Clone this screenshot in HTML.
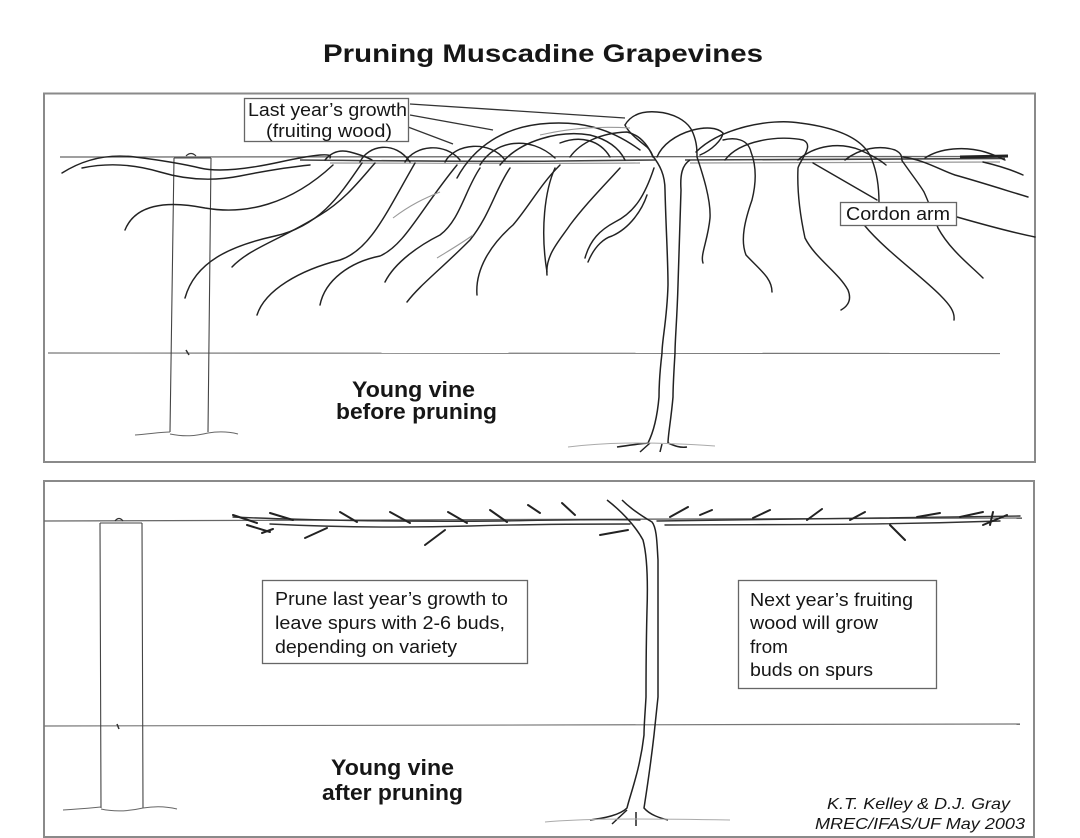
<!DOCTYPE html>
<html>
<head>
<meta charset="utf-8">
<style>
html,body{margin:0;padding:0;background:#fff;}
svg{display:block;}
text{font-family:"Liberation Sans",Arial,sans-serif;fill:#161616;}
</style>
</head>
<body>
<svg width="1080" height="838" viewBox="0 0 1080 838" xmlns="http://www.w3.org/2000/svg">
<rect x="0" y="0" width="1080" height="838" fill="#fff"/>

<!-- Title -->
<text x="323" y="62" font-size="25" font-weight="bold" textLength="440" lengthAdjust="spacingAndGlyphs">Pruning Muscadine Grapevines</text>

<!-- ================= TOP PANEL ================= -->
<rect x="44" y="93.5" width="991" height="368.5" fill="none" stroke="#8a8a8a" stroke-width="2"/>

<!-- wires -->
<line x1="60" y1="157" x2="1008" y2="156.5" stroke="#666" stroke-width="1.3"/>
<line x1="48" y1="353" x2="1000" y2="353.5" stroke="#777" stroke-width="1.2"/>
<!-- cordon -->
<path d="M300,160 C400,161 500,162 560,161 L655,160" fill="none" stroke="#444" stroke-width="1.6"/>
<path d="M330,163 C420,163 520,164 640,163" fill="none" stroke="#999" stroke-width="1.2"/>
<path d="M685,160 L1005,158.5" fill="none" stroke="#444" stroke-width="1.6"/>
<path d="M690,163 L1000,162" fill="none" stroke="#999" stroke-width="1.2"/>
<path d="M960,157 L1008,156" stroke="#222" stroke-width="3"/>

<!-- post -->
<path d="M174,158 L170,432 M211,158 L208,432 M174,158 L211,158" fill="none" stroke="#444" stroke-width="1.1"/>
<path d="M186,156 Q191,151 196,156" fill="none" stroke="#333" stroke-width="1.2"/>
<path d="M186,350 l3,5" stroke="#333" stroke-width="1.5"/>
<path d="M135,435 C150,434 160,432 170,432 M170,434 C185,437 195,436 208,433 M208,433 C220,431 230,432 238,434" fill="none" stroke="#666" stroke-width="1"/>

<g fill="none" stroke="#222" stroke-width="1.45" stroke-linecap="round">
<!-- left canes -->
<path d="M62,173 Q95,152 135,157 T200,168 T280,162 T330,158"/>
<path d="M82,168 Q120,160 160,172 T240,176 T310,165"/>
<path d="M125,230 C135,205 165,200 205,208 C245,215 290,205 333,165"/>
<path d="M185,298 C195,262 230,246 275,236 C320,226 340,195 362,163"/>
<path d="M232,267 C250,248 280,240 320,215 C345,200 360,180 375,163"/>
<path d="M257,315 C265,290 300,270 340,260 C370,250 385,215 415,163"/>
<path d="M320,305 C325,280 350,262 380,256 C405,245 420,210 457,165"/>
<path d="M385,282 C395,262 420,245 440,235 C460,220 465,190 480,168"/>
<path d="M407,302 C420,285 440,270 470,240 C490,215 495,190 510,168"/>
<path d="M477,295 C475,270 490,245 513,225 C530,205 540,185 560,165"/>
<path d="M547,275 C545,255 560,240 570,225 C585,205 600,190 620,168"/>
<path d="M585,258 C590,240 600,230 615,222 C635,212 645,195 654,168"/>
<path d="M588,262 C595,245 605,238 612,236 C630,228 642,210 647,195"/>
<path d="M555,168 C545,190 540,230 547,272"/>
<!-- arches left -->
<path d="M325,160 Q335,148 350,152 T372,160"/>
<path d="M360,162 C368,145 395,140 410,162"/>
<path d="M405,162 C415,145 445,142 460,160"/>
<path d="M445,162 C455,143 490,140 505,160"/>
<path d="M480,165 C495,140 530,135 555,158"/>
<path d="M457,178 C475,145 505,128 540,124 C580,120 610,128 640,150"/>
<path d="M500,165 C520,140 560,130 590,135 C610,140 620,150 625,160"/>
<path d="M570,157 C580,143 600,133 627,132 C640,135 648,145 653,157"/>
<path d="M560,143 C580,135 600,140 610,157"/>
<!-- central loop -->
<path d="M625,125 C632,113 645,111 657,112 C672,113 688,120 693,133 C697,143 697,150 697,157 C703,175 711,200 710,218 C708,240 700,255 703,263"/>
<path d="M625,125 C628,132 638,140 647,147 C650,150 652,153 653,157"/>
<path d="M657,157 C662,145 675,135 693,130 C705,127 717,127 723,133 C722,140 712,150 700,155"/>
<!-- right arches and canes -->
<path d="M696,152 C720,128 770,118 800,123 C840,128 865,140 872,160 C878,175 879,190 879,203"/>
<path d="M723,140 C735,137 748,139 751,152 C756,165 757,180 752,200 C745,220 740,240 746,255 C760,270 772,278 772,292"/>
<path d="M725,160 C740,140 780,135 803,140 C815,145 800,160 798,168 C797,190 800,215 805,238 C815,258 838,272 848,290 C852,300 848,306 841,310"/>
<path d="M798,160 C815,145 840,142 860,150 C875,157 880,160 886,165"/>
<path d="M845,160 C860,148 880,145 895,150 C905,155 900,160 903,162 C912,175 920,185 924,192 C930,205 935,220 938,228 C950,250 970,265 983,278"/>
<path d="M865,226 C885,250 920,275 940,295 C950,305 955,312 954,320"/>
<path d="M903,157 C925,160 940,170 955,175 C980,182 1005,190 1028,197"/>
<path d="M957,217 C985,225 1010,232 1035,237"/>
<path d="M983,162 C1000,166 1012,170 1023,175"/>
<path d="M925,158 C940,148 965,146 985,152 C995,155 1000,158 1005,160"/>
<path d="M813,163 L877,200"/>
</g>
<g fill="none" stroke="#9a9a9a" stroke-width="1.1">
<path d="M393,218 C410,205 425,198 440,192"/>
<path d="M437,258 C450,250 462,243 473,235"/>
<path d="M540,135 C570,128 600,126 630,128"/>
</g>

<!-- trunk top -->
<g fill="none" stroke="#222" stroke-width="1.5">
<path d="M652,155 C660,165 665,175 665,190 C666,230 668,260 668,285 C667,320 662,340 662,353 C660,370 659,385 659,397 C657,420 652,435 648,443"/>
<path d="M690,160 C682,165 680,175 681,190 C680,230 679,260 678,285 C677,320 675,340 675,353 C674,370 673,385 673,397 C671,420 668,435 668,443"/>
<path d="M617,447 C630,445 640,444 648,443 M668,443 C675,446 680,448 687,447 M640,452 L650,443 M660,452 L662,444"/>
</g>
<path d="M568,447 C600,443 640,441 715,446" fill="none" stroke="#aaa" stroke-width="1"/>

<!-- leader lines top-left label -->
<g stroke="#333" stroke-width="1.3" fill="none">
<path d="M410,104 L625,118"/>
<path d="M410,115 L493,130"/>
<path d="M408,127 L453,144"/>
</g>
<rect x="244.5" y="98.5" width="164" height="43" fill="#fff" stroke="#666" stroke-width="1.3"/>
<text x="248" y="116" font-size="18" textLength="159" lengthAdjust="spacingAndGlyphs">Last year’s growth</text>
<text x="266" y="137" font-size="18" textLength="126" lengthAdjust="spacingAndGlyphs">(fruiting wood)</text>

<rect x="840.5" y="202.5" width="116" height="23" fill="#fff" stroke="#666" stroke-width="1.3"/>
<text x="846" y="220" font-size="18" textLength="104" lengthAdjust="spacingAndGlyphs">Cordon arm</text>

<text x="352" y="397" font-size="22" font-weight="bold" textLength="123" lengthAdjust="spacingAndGlyphs">Young vine</text>
<text x="336" y="419" font-size="22" font-weight="bold" textLength="161" lengthAdjust="spacingAndGlyphs">before pruning</text>

<!-- ================= BOTTOM PANEL ================= -->
<rect x="44" y="481" width="990" height="356" fill="none" stroke="#8a8a8a" stroke-width="2"/>

<line x1="44" y1="521" x2="1022" y2="518" stroke="#666" stroke-width="1.3"/>
<line x1="44" y1="726" x2="1020" y2="724" stroke="#777" stroke-width="1.2"/>

<!-- post -->
<path d="M100,523 L101,808 M142,523 L143,808 M100,523 L142,523" fill="none" stroke="#444" stroke-width="1.1"/>
<path d="M115,521 Q119,516 123,521" fill="none" stroke="#333" stroke-width="1.2"/>
<path d="M117,724 l2,5" stroke="#333" stroke-width="1.5"/>
<path d="M63,810 C80,809 90,808 101,807 M101,809 C115,812 130,811 143,808 M143,808 C155,806 165,806 177,809" fill="none" stroke="#666" stroke-width="1"/>

<!-- cordon bottom -->
<g fill="none" stroke="#333" stroke-width="1.4" stroke-linecap="round">
<path d="M233,517 C300,520 400,522 500,521 C560,520 600,519 640,520"/>
<path d="M270,524 C330,527 400,528 470,526 C540,524 590,524 630,524"/>
<path d="M657,521 C750,520 850,519 1020,516"/>
<path d="M665,525 C760,524 850,526 1000,521"/>
</g>
<!-- spurs -->
<g fill="none" stroke="#222" stroke-width="2" stroke-linecap="round">
<path d="M233,515 L257,523"/>
<path d="M270,513 L293,520"/>
<path d="M340,512 L357,522"/>
<path d="M390,512 L410,523"/>
<path d="M448,512 L467,523"/>
<path d="M490,510 L507,522"/>
<path d="M528,505 L540,513"/>
<path d="M305,538 L327,528"/>
<path d="M425,545 L445,530"/>
<path d="M247,525 L270,532"/>
<path d="M262,533 L273,529"/>
<path d="M562,503 L575,515"/>
<path d="M670,517 L688,507"/>
<path d="M700,515 L712,510"/>
<path d="M753,518 L770,510"/>
<path d="M807,520 L822,509"/>
<path d="M850,520 L865,512"/>
<path d="M890,525 L905,540"/>
<path d="M917,517 L940,513"/>
<path d="M960,517 L983,512"/>
<path d="M983,525 L1007,515"/>
<path d="M993,512 L990,525"/>
<path d="M600,535 L628,530"/>
</g>
<!-- trunk bottom -->
<g fill="none" stroke="#222" stroke-width="1.5">
<path d="M607,500 C620,510 635,525 643,540 C647,555 648,580 647,610 C646,650 646,680 646,697 C645,715 644,725 644,735 C640,770 630,795 627,808 C620,815 605,818 590,820"/>
<path d="M622,500 C630,508 640,515 652,522 C657,528 657,545 658,560 C658,600 658,650 658,697 C656,715 655,725 654,735 C650,770 646,795 644,808 C650,815 660,818 668,820"/>
<path d="M612,824 L627,810 M636,826 L636,812"/>
</g>
<path d="M545,822 C580,819 620,818 730,820" fill="none" stroke="#aaa" stroke-width="1"/>

<!-- boxes -->
<rect x="262.5" y="580.5" width="265" height="83" fill="#fff" stroke="#666" stroke-width="1.3"/>
<text x="275" y="605" font-size="18" textLength="233" lengthAdjust="spacingAndGlyphs">Prune last year’s growth to</text>
<text x="275" y="629" font-size="18" textLength="230" lengthAdjust="spacingAndGlyphs">leave spurs with 2-6 buds,</text>
<text x="275" y="653" font-size="18" textLength="182" lengthAdjust="spacingAndGlyphs">depending on variety</text>

<rect x="738.5" y="580.5" width="198" height="108" fill="#fff" stroke="#666" stroke-width="1.3"/>
<text x="750" y="606" font-size="18" textLength="163" lengthAdjust="spacingAndGlyphs">Next year’s fruiting</text>
<text x="750" y="629" font-size="18" textLength="128" lengthAdjust="spacingAndGlyphs">wood will grow</text>
<text x="750" y="653" font-size="18" textLength="38" lengthAdjust="spacingAndGlyphs">from</text>
<text x="750" y="676" font-size="18" textLength="123" lengthAdjust="spacingAndGlyphs">buds on spurs</text>

<text x="331" y="775" font-size="22" font-weight="bold" textLength="123" lengthAdjust="spacingAndGlyphs">Young vine</text>
<text x="322" y="800" font-size="22" font-weight="bold" textLength="141" lengthAdjust="spacingAndGlyphs">after pruning</text>

<text x="827" y="809" font-size="16" font-style="italic" textLength="183" lengthAdjust="spacingAndGlyphs">K.T. Kelley &amp; D.J. Gray</text>
<text x="815" y="829" font-size="16" font-style="italic" textLength="210" lengthAdjust="spacingAndGlyphs">MREC/IFAS/UF May 2003</text>
</svg>
</body>
</html>
